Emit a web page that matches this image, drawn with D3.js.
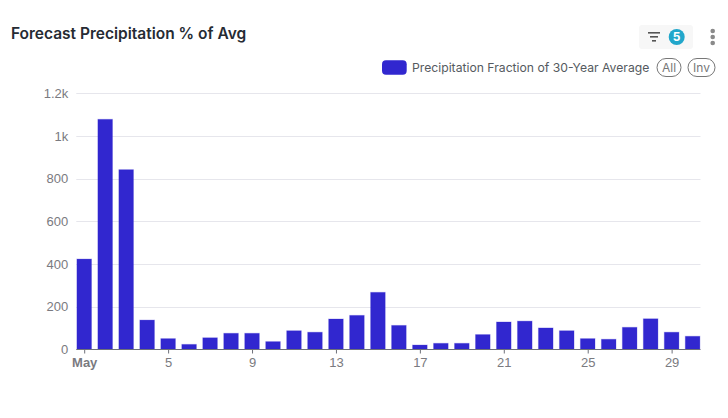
<!DOCTYPE html>
<html>
<head>
<meta charset="utf-8">
<script src="https://cdn.jsdelivr.net/npm/d3@7"></script>
<style>
html,body{margin:0;padding:0;background:#fff;}
svg{display:block;font-family:Inter,"Noto Sans",sans-serif;}
</style>
</head>
<body>
<svg id="c" width="728" height="418"></svg>
<script>
const days = d3.range(1, 31);
const values = [423,1078,842,137,50,23,54,75,75,36,87,80,142,159,267,112,20,28,28,69,128,132,100,87,50,47,103,143,80,61];
const yTicks = [0,200,400,600,800,1000,1200];
const xTicks = [1,5,9,13,17,21,25,29];
const titleText = "Forecast Precipitation % of Avg";
const legendText = "Precipitation Fraction of 30-Year Average";
const badgeText = "5";

const svg = d3.select("#c");
const x = d3.scaleLinear().domain([1,30]).range([84.2,692.6]);
const y = d3.scaleLinear().domain([0,1200]).range([349.3,93.3]);
const left = 76.3, right = 700.5, barW = 14.6;

// gridlines
svg.append("g").selectAll("line").data(yTicks.filter(d=>d>0)).join("line")
  .attr("x1",left).attr("x2",right)
  .attr("y1",d=>Math.round(y(d))+0.5).attr("y2",d=>Math.round(y(d))+0.5)
  .attr("stroke","#e6e6ec").attr("stroke-width",1);

// bars
svg.append("g").selectAll("rect").data(values).join("rect")
  .attr("x",(d,i)=>x(days[i])-barW/2)
  .attr("width",barW)
  .attr("y",d=>y(d))
  .attr("height",d=>y(0)-y(d))
  .attr("fill","#3127cf")
  .attr("stroke","rgba(49,39,207,0.28)")
  .attr("stroke-width",1);

// y axis
const yAxis = d3.axisLeft(y).tickValues(yTicks).tickSize(0).tickPadding(8)
  .tickFormat(d=> d>=1000 ? (d/1000)+"k" : d);
const gy = svg.append("g").attr("transform",`translate(${left},0)`).call(yAxis);
gy.select(".domain").remove();
gy.selectAll("text").attr("font-size",13).attr("fill","#7a7a80");

// x axis
const xAxis = d3.axisBottom(x).tickValues(xTicks).tickSize(4).tickPadding(4)
  .tickFormat(d=> d===1 ? "May" : d);
const gx = svg.append("g").attr("transform","translate(0,349.5)").call(xAxis);
gx.select(".domain").attr("d",`M${left},0H${right}`).attr("stroke","#6e7079").attr("stroke-width",1);
gx.selectAll("line").attr("stroke","#6e7079");
gx.selectAll("text").attr("font-size",13).attr("fill","#7a7a80")
  .attr("font-weight",d=>d===1?"700":"400");

// title
svg.append("text").attr("x",11).attr("y",38.5).attr("font-size",15.5).attr("font-weight",600)
  .attr("fill","#262b33").text(titleText);

// legend
svg.append("rect").attr("x",382).attr("y",60.3).attr("width",24.7).attr("height",14.4).attr("rx",4)
  .attr("fill","#3127cf");
svg.append("text").attr("x",412).attr("y",71.5).attr("font-size",12.2).attr("fill","#555a60").text(legendText);

[["All",657,24],["Inv",688,27]].forEach(([t,px,w])=>{
  svg.append("rect").attr("x",px).attr("y",58.5).attr("width",w).attr("height",18).attr("rx",9)
    .attr("fill","#fff").attr("stroke","#777").attr("stroke-width",1);
  svg.append("text").attr("x",px+w/2).attr("y",71.5).attr("text-anchor","middle")
    .attr("font-size",12).attr("fill","#777").text(t);
});

// filter button
svg.append("rect").attr("x",639).attr("y",25).attr("width",54).attr("height",24).attr("rx",3).attr("fill","#f7f7f7");
[[648,12],[650,8],[652,4]].forEach(([px,w],i)=>{
  svg.append("rect").attr("x",px).attr("y",32+i*4).attr("width",w).attr("height",1.6).attr("fill","#555");
});
svg.append("circle").attr("cx",676.7).attr("cy",37).attr("r",8).attr("fill","#22a7cb");
svg.append("text").attr("x",676.7).attr("y",41.3).attr("text-anchor","middle").attr("font-size",12)
  .attr("font-weight",700).attr("fill","#fff").text(badgeText);
[31,37,43].forEach(cy=>{
  svg.append("circle").attr("cx",712.7).attr("cy",cy).attr("r",2.3).attr("fill","#8a8a8a");
});
</script>
</body>
</html>
